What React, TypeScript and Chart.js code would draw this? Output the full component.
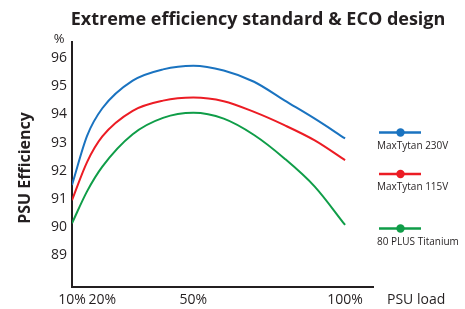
import React, { useEffect, useRef } from "react";
import { Chart, registerables } from "chart.js";

Chart.register(...registerables);

const loads = [10, 15, 20, 30, 40, 50, 60, 70, 80, 90, 100];
const maxTytan230 = [91.5, 93.25, 94.22, 95.2, 95.6, 95.73, 95.56, 95.16, 94.5, 93.85, 93.15];
const maxTytan115 = [90.96, 92.32, 93.22, 94.13, 94.49, 94.6, 94.47, 94.09, 93.62, 93.08, 92.38];
const titanium80 = [90.14, 91.28, 92.15, 93.3, 93.88, 94.06, 93.85, 93.27, 92.44, 91.44, 90.08];
const seriesNames = ["MaxTytan 230V", "MaxTytan 115V", "80 PLUS Titanium"];
const seriesColors = ["#1a73c0", "#ec1c24", "#0f9d48"];
const yTicks = [89, 90, 91, 92, 93, 94, 95, 96];
const xTicks = [10, 20, 50, 100];
const titleText = "Extreme efficiency standard & ECO design";
const yTitle = "PSU Efficiency";
const xTitle = "PSU load";
const yUnit = "%";

const FONT = "'Open Sans', 'Noto Sans', sans-serif";
const TEXT = "#231f20";

export default function App() {
  const ref = useRef<HTMLCanvasElement | null>(null);
  useEffect(() => {
    if (!ref.current) return;
    const series = [maxTytan230, maxTytan115, titanium80];
    const overlay = {
      id: "overlay",
      afterDraw(chart: any) {
        const ctx = chart.ctx;
        ctx.save();
        ctx.fillStyle = TEXT;
        ctx.textBaseline = "middle";
        ctx.font = `bold 18px ${FONT}`;
        ctx.textAlign = "center";
        ctx.fillText(titleText, 258, 20);
        ctx.font = `13px ${FONT}`;
        ctx.fillText(yUnit, 59, 39);
        ctx.textAlign = "left";
        ctx.font = `14px ${FONT}`;
        ctx.fillText(xTitle, 387, 300);
        ctx.save();
        ctx.translate(25, 168);
        ctx.rotate(-Math.PI / 2);
        ctx.textAlign = "center";
        ctx.font = `bold 16px ${FONT}`;
        ctx.fillText(yTitle, 0, 0);
        ctx.restore();
        const lineYs = [132.5, 174, 228.5];
        for (let i = 0; i < 3; i++) {
          const ly = lineYs[i];
          ctx.strokeStyle = seriesColors[i];
          ctx.lineWidth = 2.5;
          ctx.beginPath();
          ctx.moveTo(379, ly);
          ctx.lineTo(421, ly);
          ctx.stroke();
          ctx.fillStyle = seriesColors[i];
          ctx.beginPath();
          ctx.arc(400.5, ly, 4.2, 0, Math.PI * 2);
          ctx.fill();
          ctx.fillStyle = TEXT;
          ctx.font = `10px ${FONT}`;
          ctx.textAlign = "left";
          ctx.fillText(seriesNames[i], 377, ly + 13.5);
        }
        ctx.restore();
      },
    };
    const chart = new Chart(ref.current, {
      type: "line",
      data: {
        datasets: series.map((s, i) => ({
          label: seriesNames[i],
          data: loads.map((x, j) => ({ x, y: s[j] })),
          borderColor: seriesColors[i],
          backgroundColor: seriesColors[i],
          borderWidth: 2,
          pointRadius: 0,
          cubicInterpolationMode: "monotone" as const,
          fill: false,
        })),
      },
      options: {
        animation: false,
        responsive: true,
        maintainAspectRatio: false,
        layout: { padding: { left: 0, top: 42, right: 92, bottom: 0 } },
        plugins: {
          legend: { display: false },
          tooltip: { enabled: false },
          title: { display: false },
        },
        scales: {
          x: {
            type: "linear",
            min: 10,
            max: 109.2,
            grid: { display: false, drawTicks: false },
            border: { display: true, color: TEXT, width: 2 },
            afterBuildTicks: (scale: any) => {
              scale.ticks = xTicks.map((v) => ({ value: v }));
            },
            afterFit: (scale: any) => {
              scale.height = 22;
            },
            ticks: {
              padding: 5,
              color: TEXT,
              font: { family: FONT, size: 14 },
              maxRotation: 0,
              autoSkip: false,
              callback: (v: any) => `${v}%`,
            },
          },
          y: {
            type: "linear",
            min: 87.88,
            max: 96.57,
            grid: { display: false, drawTicks: false },
            border: { display: true, color: TEXT, width: 2 },
            afterBuildTicks: (scale: any) => {
              scale.ticks = yTicks.map((v) => ({ value: v }));
            },
            afterFit: (scale: any) => {
              scale.width = 72;
            },
            ticks: {
              padding: 5,
              color: TEXT,
              font: { family: FONT, size: 14 },
              autoSkip: false,
              callback: (v: any) => `${v}`,
            },
          },
        },
      },
      plugins: [overlay],
    });
    return () => chart.destroy();
  }, []);
  return (
    <div style={{ position: "absolute", left: 0, top: 0, width: 465, height: 309, background: "#fff" }}>
      <canvas ref={ref} />
    </div>
  );
}
